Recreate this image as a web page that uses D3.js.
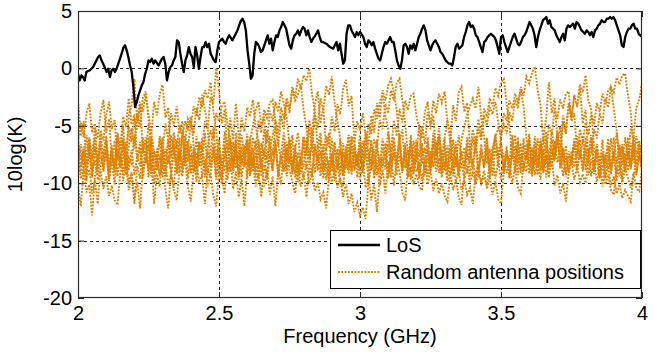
<!DOCTYPE html>
<html>
<head>
<meta charset="utf-8">
<script src="https://cdn.jsdelivr.net/npm/d3@7"></script>
<style>
  body { margin: 0; background: #fff; }
  text { font-family: Arial, "Liberation Sans", sans-serif; fill: #000; }
</style>
</head>
<body>
<div id="chart"></div>
<script>
// Grilles de fréquence (GHz)
const freqStart = 2;
const losStep = 0.5 / 84;     // LoS : 84 pas par demi-GHz
const randomStep = 0.01;      // réalisations aléatoires

// Courbe LoS (dB)
const losValues = [
  -0.47, -1.05, -0.61, -0.76, -1.05, -0.32, -0.23, -0.17, -0.03, 0.12,
  0.41, 0.70, 0.99, 1.13, 0.70, 0.41, 0.06, -0.32, -0.03, -0.76,
  -0.17, -0.03, -0.32, -0.03, 0.41, 0.84, 1.28, 1.80, 2.01, 1.57,
  0.99, 0.26, -0.32, -1.63, -3.37, -2.94, -2.35, -1.92, -1.48, -1.19,
  -0.47, -0.03, 0.70, 0.55, 0.84, 0.41, 0.70, 0.47, 0.26, 0.55,
  0.84, 0.99, 0.41, -1.05, -0.32, 0.12, 0.26, 0.70, 0.99, 2.44,
  2.30, 1.28, 0.41, -0.32, 0.70, 1.13, 1.86, 1.28, 0.99, 0.12,
  1.86, 1.13, -0.03, 0.99, 1.86, 1.86, 2.30, 1.86, 2.15, 1.28,
  0.99, 0.70, 0.55, 1.57,
  2.30, 2.44, 2.59, 2.30, 2.15, 2.59, 2.88, 2.67, 2.44, 2.73,
  3.02, 3.31, 3.75, 4.13, 4.33, 4.04, 3.31, 1.57, 0.41, -0.90,
  -0.61, 1.28, 2.30, 2.15, 1.86, 1.42, 1.57, 2.01, 2.44, 2.88,
  2.15, 2.59, 1.57, 2.30, 2.88, 2.73, 3.31, 3.60, 4.04, 3.75,
  3.46, 2.73, 2.01, 1.72, 2.44, 2.88, 3.02, 3.31, 2.88, 3.31,
  3.60, 3.46, 2.88, 3.31, 2.73, 2.30, 2.59, 2.79, 3.02, 3.31,
  2.73, 2.30, 2.30, 2.21, 2.15, 2.01, 1.86, 1.80, 1.72, 2.01,
  2.30, 1.57, 2.15, 1.28, 0.41, 0.70, 3.02, 3.75, 3.75, 3.31,
  3.02, 2.73, 3.17, 2.88,
  3.17, 2.97, 2.73, 2.15, 1.86, 2.44, 2.30, 2.01, 2.30, 1.72,
  1.28, 0.84, 0.70, 1.28, 1.86, 2.30, 2.15, 2.44, 2.73, 2.30,
  2.30, 1.57, 0.70, 0.26, -0.03, 0.70, 2.01, 2.15, 1.86, 1.28,
  2.01, 1.72, 2.15, 1.57, 2.15, 2.73, 3.02, 3.46, 3.75, 3.31,
  2.44, 2.01, 1.57, 2.01, 2.30, 2.44, 2.15, 1.86, 1.42, 1.28,
  0.99, 0.70, 0.55, 0.41, 0.41, 0.26, 0.99, 1.86, 2.15, 1.72,
  1.86, 2.01, 2.73, 3.17, 3.75, 4.04, 3.60, 3.75, 3.46, 2.88,
  2.73, 2.30, 1.86, 1.42, 2.30, 2.44, 2.73, 2.88, 3.02, 2.88,
  2.73, 2.44, 1.86, 1.28,
  2.73, 2.88, 2.30, 1.86, 1.42, 1.86, 2.30, 2.73, 3.02, 2.59,
  2.15, 2.01, 2.30, 2.73, 2.88, 3.17, 3.60, 4.04, 3.75, 3.46,
  2.88, 1.86, 2.73, 3.31, 3.75, 4.19, 4.33, 4.48, 3.90, 4.19,
  3.60, 3.46, 3.31, 2.88, 2.59, 2.30, 2.73, 3.02, 2.44, 3.46,
  3.75, 3.60, 3.75, 3.90, 3.46, 4.04, 3.90, 3.60, 3.31, 3.17,
  3.02, 3.31, 3.17, 2.88, 3.17, 2.73, 3.31, 3.46, 3.75, 3.90,
  4.19, 4.04, 4.04, 4.33, 4.33, 4.48, 4.33, 4.48, 4.19, 3.75,
  3.31, 2.88, 2.01, 1.86, 2.73, 3.17, 3.46, 3.46, 3.75, 3.90,
  3.46, 3.46, 3.02, 2.88,
  2.73
];

// Positions d'antenne aléatoires (dB), huit réalisations
const random1 = [
  -2.8, -5.9, -4.6, -8.3, -6.1, -9.4, -6.9, -8.8, -5.7, -7.9,
  -6.2, -9.6, -7.4, -8.9, -5.8, -7.1, -5.0, -8.3, -4.1, -3.2,
  -0.9, -4.6, -2.9, -7.3, -6.0, -9.5, -7.2, -10.1, -8.0, -9.3,
  -7.1, -10.6, -12.2, -9.0, -10.4, -6.8, -8.9, -5.9, -8.1, -6.3,
  -9.2, -7.0, -9.9, -6.5, -8.4, -5.6, -9.1, -7.3, -5.1, -8.0,
  -6.2, -8.7, -5.5, -7.0, -4.3, -6.2, -3.05, -5.9, -8.4, -6.7,
  -9.6, -7.1, -8.5, -6.3, -9.8, -7.9, -10.3, -8.8, -11.0, -9.4,
  -12.0, -8.9, -10.1, -6.6, -8.8, -6.1, -9.2, -7.0, -5.6, -8.3,
  -5.9, -7.2, -4.5, -5.7, -3.2, -2.0, -4.8, -3.4, -7.1, -5.6,
  -9.0, -6.9, -8.6, -6.2, -9.4, -7.5, -5.8, -8.7, -6.6, -9.5,
  -7.2, -8.8, -5.9, -8.1, -6.4, -9.3, -7.0, -8.5, -6.1, -7.7,
  -9.6, -7.4, -10.2, -8.1, -9.0, -10.8, -11.5, -8.6, -9.7, -6.3,
  -7.6, -4.9, -6.1, -3.8, -2.9, -5.3, -4.1, -7.4, -6.0, -8.9,
  -6.7, -9.3, -7.9, -6.2, -8.6, -5.8, -8.0, -6.9, -9.1, -7.3,
  -8.4, -5.9, -9.2, -7.0, -8.7, -6.1, -9.5, -7.6, -5.7, -8.2,
  -6.4, -8.9, -6.8, -9.4, -7.1, -5.8, -8.3, -6.5, -9.0, -7.2,
  -8.5, -6.9, -9.3, -8.1, -9.7, -6.0, -4.3, -1.2, -3.9, -2.6,
  -6.4, -5.1, -8.3, -6.7, -9.1, -7.2, -8.6, -5.9, -7.8, -6.2,
  -8.9, -7.0, -9.4, -8.0, -9.9, -8.3, -10.3, -7.5, -8.8, -6.1,
  -7.9, -5.6, -8.3, -6.9, -9.0, -6.4, -8.7, -5.8, -7.5, -6.3,
  -8.1
];
const random2 = [
  -6.4, -4.7, -6.0, -3.9, -3.05, -5.6, -4.8, -8.1, -6.6, -9.0,
  -7.2, -9.8, -8.0, -10.1, -7.3, -8.6, -6.1, -8.9, -6.7, -5.2,
  -7.0, -3.9, -5.1, -2.6, -2.0, -4.4, -7.9, -11.8, -9.2, -10.3,
  -7.0, -8.8, -6.2, -9.4, -7.3, -8.5, -6.0, -9.1, -8.0, -10.4,
  -11.6, -8.7, -9.3, -6.4, -7.1, -4.6, -5.3, -2.5, -3.1, 0.0,
  -1.9, -4.8, -3.6, -7.4, -5.9, -8.8, -6.6, -9.3, -7.5, -8.6,
  -6.3, -9.4, -7.9, -10.3, -9.1, -11.2, -8.4, -9.6, -6.8, -8.9,
  -6.5, -9.0, -7.4, -5.6, -8.1, -6.2, -9.2, -7.1, -9.9, -7.8,
  -8.6, -6.1, -8.4, -5.5, -7.6, -6.8, -9.4, -7.2, -5.9, -6.8,
  -4.2, -5.5, -3.1, -4.0, -1.8, -1.0, -3.3, -2.4, -6.3, -8.5,
  -6.9, -9.1, -7.4, -8.9, -6.2, -9.6, -8.0, -10.2, -8.8, -10.9,
  -8.1, -9.5, -6.4, -8.2, -5.8, -9.0, -7.1, -8.8, -6.3, -9.2,
  -7.5, -9.6, -6.9, -8.3, -6.0, -8.7, -5.6, -7.4, -5.2, -7.9,
  -6.1, -4.5, -6.4, -3.2, -4.6, -2.1, -1.6, -3.8, -3.0, -6.9,
  -8.8, -6.6, -9.3, -7.2, -8.5, -6.0, -9.0, -7.3, -9.6, -8.1,
  -9.7, -7.4, -9.1, -8.3, -10.0, -8.6, -10.4, -10.9, -8.2, -9.0,
  -6.3, -8.4, -5.9, -8.0, -6.7, -9.1, -7.5, -8.6, -6.2, -7.9,
  -5.4, -6.9, -4.1, -5.6, -3.0, -4.2, -2.4, -3.3, -1.7, -4.8,
  -3.6, -7.9, -6.1, -9.2, -7.3, -8.4, -6.2, -9.5, -7.7, -8.8,
  -6.0, -8.3, -6.8, -9.7, -7.4, -8.9, -6.5, -8.2, -5.9, -7.3,
  -6.6
];
const random3 = [
  -7.6, -9.1, -6.8, -8.4, -6.0, -7.9, -5.2, -6.1, -3.9, -2.75,
  -5.6, -4.4, -7.8, -6.3, -9.4, -7.5, -9.8, -8.2, -10.6, -9.1,
  -11.4, -9.9, -12.2, -8.6, -7.3, -4.9, -5.8, -2.9, -4.1, -2.2,
  -1.45, -4.3, -3.4, -7.8, -6.1, -9.2, -7.0, -8.8, -6.4, -9.6,
  -7.5, -8.9, -5.9, -8.3, -6.8, -9.5, -7.2, -8.6, -6.5, -9.3,
  -7.8, -10.1, -8.4, -9.7, -7.9, -10.5, -9.0, -11.2, -9.6, -12.0,
  -8.9, -6.3, -5.1, -3.6, -2.9, -5.0, -4.2, -7.9, -6.5, -8.7,
  -6.2, -9.5, -7.7, -8.9, -6.4, -8.2, -5.8, -9.1, -7.3, -8.5,
  -6.0, -7.6, -5.1, -6.9, -4.0, -5.2, -2.6, -3.7, -1.5, -2.3,
  -0.7, -3.0, -4.6, -6.1, -8.7, -7.3, -9.2, -6.8, -8.9, -7.5,
  -9.7, -8.1, -10.4, -9.2, -11.5, -10.1, -12.5, -9.4, -7.7, -8.8,
  -6.6, -9.0, -7.4, -8.3, -5.9, -8.7, -6.8, -9.5, -7.1, -8.4,
  -6.2, -7.7, -5.0, -6.6, -3.8, -4.9, -2.8, -3.9, -2.2, -3.0,
  -2.0, -4.7, -5.4, -8.1, -6.8, -9.0, -7.2, -8.7, -6.5, -9.4,
  -7.8, -9.9, -8.3, -10.2, -8.9, -10.5, -9.4, -11.0, -9.8, -11.4,
  -11.8, -9.0, -7.2, -8.6, -6.4, -9.1, -7.0, -8.5, -6.1, -7.9,
  -5.7, -8.2, -6.6, -9.0, -7.3, -6.1, -7.4, -4.9, -5.8, -3.6,
  -4.4, -2.7, -3.5, -2.2, -2.0, -4.6, -3.9, -7.5, -6.2, -8.8,
  -7.1, -9.3, -7.9, -8.8, -6.6, -9.4, -7.8, -8.5, -6.9, -9.2,
  -7.5, -9.8, -8.2, -10.1, -8.7, -9.5, -10.4, -9.1, -10.5, -10.7,
  -8.8
];
const random4 = [
  -8.4, -6.6, -8.9, -5.8, -7.6, -9.5, -7.0, -8.2, -5.4, -6.3,
  -4.1, -2.9, -5.3, -4.5, -8.0, -6.4, -9.1, -7.7, -10.0, -9.0,
  -11.8, -8.5, -9.6, -6.9, -8.3, -6.0, -9.0, -7.2, -8.6, -5.9,
  -7.1, -4.8, -6.2, -3.9, -5.0, -3.3, -5.7, -4.6, -8.3, -6.9,
  -9.1, -7.4, -8.8, -6.3, -9.5, -8.0, -10.3, -9.2, -11.1, -12.0,
  -8.9, -9.7, -6.8, -8.5, -6.2, -8.9, -5.6, -7.0, -4.3, -5.5,
  -3.4, -4.2, -2.75, -5.1, -6.4, -8.6, -7.3, -9.7, -7.6, -8.9,
  -6.5, -9.3, -7.8, -9.0, -6.9, -8.8, -9.9, -10.9, -8.1, -9.2,
  -6.4, -8.7, -7.0, -9.5, -6.8, -8.1, -6.2, -9.0, -8.3, -9.8,
  -7.4, -9.4, -8.6, -9.9, -10.3, -8.0, -8.9, -5.9, -6.5, -4.6,
  -5.3, -3.9, -5.8, -7.2, -8.9, -7.0, -9.3, -7.6, -8.7, -6.5,
  -9.2, -7.5, -6.0, -8.4, -6.7, -9.1, -7.3, -8.6, -5.8, -8.0,
  -6.6, -9.3, -7.9, -8.8, -6.4, -9.0, -7.4, -8.3, -5.9, -7.7,
  -6.1, -8.8, -7.0, -9.4, -7.6, -8.6, -6.2, -5.1, -4.0, -3.3,
  -2.6, -3.5, -1.6, -4.4, -5.9, -8.3, -7.0, -9.4, -6.7, -8.5,
  -6.9, -9.2, -7.5, -8.1, -5.8, -8.6, -6.4, -9.1, -7.3, -8.0,
  -6.2, -8.9, -7.6, -9.3, -6.8, -8.5, -6.0, -7.8, -5.5, -7.2,
  -5.9, -8.4, -4.6, -5.7, -3.2, -4.5, -2.3, -3.4, -1.4, -2.1,
  -0.6, -2.8, -3.6, -6.9, -8.1, -9.6, -8.4, -10.1, -9.3, -10.6,
  -11.0, -8.6, -9.4, -6.7, -8.2, -6.0, -8.8, -7.1, -9.3, -7.6,
  -8.9
];
const random5 = [
  -10.3, -12.0, -8.9, -9.8, -6.7, -8.4, -6.0, -9.2, -7.5, -8.6,
  -6.3, -9.0, -7.1, -8.5, -5.6, -6.8, -4.2, -5.1, -2.6, -4.9,
  -4.0, -8.1, -6.9, -9.6, -7.4, -8.8, -6.3, -9.2, -7.0, -8.1,
  -6.0, -9.4, -7.6, -8.9, -6.5, -9.1, -7.8, -8.4, -5.9, -6.9,
  -4.8, -5.7, -3.4, -4.5, -2.3, -3.6, -5.2, -8.6, -7.3, -9.7,
  -7.1, -8.3, -6.0, -9.0, -7.6, -8.5, -6.2, -9.3, -6.8, -8.0,
  -5.7, -8.4, -6.9, -9.5, -7.2, -8.1, -5.3, -6.5, -3.7, -4.6,
  -2.9, -3.8, -2.0, -3.1, -4.3, -6.6, -7.9, -9.5, -8.4, -10.3,
  -9.1, -11.2, -8.6, -9.4, -6.6, -8.9, -7.2, -9.6, -7.7, -8.4,
  -6.1, -8.9, -7.0, -9.3, -7.5, -8.1, -5.8, -9.0, -6.9, -8.6,
  -6.4, -7.8, -5.5, -6.7, -4.1, -5.6, -3.0, -4.3, -1.9, -2.8,
  -1.5, -0.9, -2.2, -3.6, -6.2, -5.3, -8.7, -7.1, -9.4, -7.8,
  -9.0, -8.2, -9.8, -8.0, -10.1, -8.9, -10.7, -9.6, -10.9, -10.0,
  -11.1, -11.6, -9.3, -8.2, -6.4, -9.0, -7.3, -8.8, -6.0, -7.4,
  -5.3, -6.7, -4.4, -5.9, -3.5, -4.2, -2.6, -3.3, -1.7, -2.4,
  -1.2, -0.9, -3.1, -5.0, -7.9, -6.8, -9.3, -7.4, -8.7, -6.6,
  -9.2, -7.8, -8.4, -6.1, -8.9, -7.0, -9.5, -7.7, -8.6, -6.3,
  -8.2, -6.9, -9.4, -7.6, -9.0, -8.1, -9.7, -8.5, -9.9, -9.2,
  -10.0, -8.0, -7.4, -5.3, -6.1, -3.9, -4.8, -2.6, -3.4, -1.6,
  -2.1, -0.8, -1.4, -0.6, -0.45, -2.3, -3.8, -6.9, -8.4, -7.2,
  -8.8
];
const random6 = [
  -8.0, -9.6, -8.7, -10.8, -10.1, -12.8, -9.4, -8.2, -6.5, -8.8,
  -7.1, -9.5, -7.8, -8.6, -5.9, -8.0, -6.6, -7.5, -5.1, -6.4,
  -4.2, -5.3, -3.1, -3.8, -2.2, -4.0, -5.6, -7.4, -8.9, -7.6,
  -9.5, -8.4, -10.1, -9.3, -10.6, -11.5, -8.7, -9.4, -6.3, -8.1,
  -6.6, -9.0, -7.3, -8.5, -6.1, -8.7, -6.8, -5.4, -6.2, -3.9,
  -4.6, -3.3, -2.9, -4.8, -6.5, -8.3, -7.1, -9.7, -7.9, -8.6,
  -6.4, -9.2, -7.7, -8.9, -6.2, -9.4, -7.0, -8.3, -5.9, -7.6,
  -5.0, -6.8, -4.1, -5.3, -2.7, -3.9, -1.6, -2.5, -0.9, -1.8,
  -0.6, -1.1, 0.0, -2.3, -3.7, -6.9, -5.6, -8.6, -7.0, -9.2,
  -7.5, -9.8, -8.1, -9.0, -6.5, -8.7, -6.9, -9.3, -7.4, -8.2,
  -5.8, -8.9, -7.1, -9.6, -7.7, -8.4, -6.2, -9.0, -6.9, -8.0,
  -5.6, -7.3, -4.5, -5.9, -3.5, -4.7, -2.8, -3.6, -2.4, -2.2,
  -4.1, -5.3, -8.0, -6.9, -9.4, -7.2, -8.6, -6.4, -9.1, -7.8,
  -8.9, -6.7, -9.3, -8.1, -9.9, -8.8, -10.6, -9.7, -11.0, -10.4,
  -11.8, -9.1, -8.3, -6.6, -8.7, -6.9, -9.2, -7.4, -5.9, -7.6,
  -6.0, -4.9, -5.7, -3.8, -4.6, -2.7, -3.5, -1.6, -2.4, -0.7,
  -1.3, -0.4, 0.15, -1.9, -3.2, -6.4, -5.5, -8.9, -7.6, -10.2,
  -9.3, -10.9, -10.0, -11.6, -9.1, -8.0, -6.3, -8.7, -7.1, -9.0,
  -6.5, -8.3, -5.8, -8.6, -7.0, -9.4, -7.5, -8.2, -6.1, -8.9,
  -7.2, -9.1, -6.6, -8.4, -6.0, -7.9, -5.2, -5.9, -3.4, -2.7,
  -1.3
];
const random7 = [
  -6.1, -8.0, -7.2, -9.6, -8.8, -10.9, -9.7, -11.8, -8.5, -7.3,
  -5.9, -8.4, -6.7, -9.1, -7.0, -8.6, -6.2, -9.3, -7.8, -8.3,
  -5.7, -7.9, -6.4, -9.0, -7.3, -8.7, -6.0, -8.9, -7.5, -9.4,
  -7.1, -8.5, -6.2, -7.7, -5.6, -6.9, -4.9, -6.0, -4.6, -5.4,
  -4.2, -6.7, -8.3, -9.8, -9.4, -11.8, -8.7, -9.5, -6.8, -8.4,
  -6.5, -9.2, -7.6, -8.9, -6.3, -9.1, -7.4, -8.0, -5.8, -7.6,
  -6.2, -8.7, -6.0, -7.1, -4.5, -5.6, -3.6, -4.3, -3.0, -2.75,
  -4.6, -6.5, -8.1, -7.0, -9.4, -7.7, -8.8, -6.6, -9.2, -7.9,
  -9.6, -8.3, -10.0, -9.1, -10.7, -9.9, -11.4, -10.8, -12.2, -9.5,
  -8.0, -6.4, -8.8, -7.1, -9.3, -6.8, -8.4, -6.0, -8.7, -7.5,
  -8.9, -6.3, -7.2, -4.8, -5.7, -3.6, -4.4, -2.9, -2.3, -4.1,
  -5.3, -8.2, -7.0, -9.3, -7.6, -8.8, -6.5, -9.4, -8.6, -10.1,
  -9.2, -10.3, -10.6, -8.4, -7.2, -8.9, -6.6, -9.0, -7.8, -9.5,
  -8.1, -9.8, -9.0, -10.6, -9.7, -11.2, -11.9, -9.0, -7.6, -8.3,
  -6.1, -7.4, -5.2, -6.3, -4.1, -5.0, -3.4, -4.0, -2.9, -4.7,
  -6.3, -8.9, -7.2, -9.6, -7.5, -8.4, -6.0, -8.8, -6.7, -7.9,
  -6.3, -9.2, -7.4, -8.6, -6.1, -8.9, -7.7, -9.5, -7.0, -8.1,
  -5.8, -8.7, -6.9, -9.1, -7.2, -8.2, -6.4, -7.8, -5.3, -6.4,
  -4.7, -5.8, -3.9, -4.9, -3.0, -3.8, -2.2, -3.1, -1.9, -1.6,
  -3.5, -5.4, -7.7, -6.6, -9.0, -7.3, -8.6, -6.5, -9.2, -7.6,
  -8.2
];
const random8 = [
  -6.7, -8.6, -7.3, -9.2, -6.8, -8.9, -8.0, -9.7, -8.9, -10.5,
  -9.4, -11.1, -10.2, -11.5, -11.9, -9.0, -7.8, -6.4, -8.9, -7.1,
  -9.3, -7.6, -8.5, -6.0, -8.2, -6.7, -9.4, -7.2, -8.0, -6.1,
  -8.8, -7.0, -8.3, -5.8, -7.4, -6.2, -8.0, -5.5, -6.3, -4.4,
  -5.0, -3.3, -4.2, -2.5, -3.4, -1.9, -2.6, -1.2, -3.7, -5.4,
  -8.9, -9.6, -10.9, -8.3, -9.0, -6.4, -8.7, -7.1, -9.5, -7.8,
  -8.4, -6.0, -9.0, -7.3, -8.8, -6.5, -7.6, -5.4, -6.9, -5.9,
  -4.5, -5.6, -3.4, -4.4, -2.6, -3.5, -1.9, -2.8, -2.2, -1.45,
  -3.6, -5.1, -7.9, -6.8, -9.1, -7.4, -8.8, -6.6, -9.7, -8.3,
  -9.9, -8.8, -10.4, -9.5, -11.2, -10.1, -11.8, -10.9, -12.5, -11.7,
  -12.8, -12.1, -13.1, -9.9, -8.6, -6.2, -6.9, -4.5, -5.3, -3.1,
  -3.9, -1.9, -2.8, -1.3, -0.9, -2.7, -4.8, -7.5, -6.6, -9.1,
  -7.3, -8.9, -6.5, -9.3, -7.8, -8.6, -6.1, -8.0, -6.9, -9.2,
  -7.4, -8.5, -6.2, -9.0, -7.7, -9.4, -8.2, -9.6, -8.7, -9.9,
  -9.1, -10.1, -9.3, -9.8, -9.5, -10.2, -8.1, -6.9, -6.0, -5.2,
  -5.7, -3.9, -4.6, -2.8, -3.5, -2.2, -2.9, -1.9, -3.3, -6.0,
  -8.1, -9.4, -7.2, -8.6, -6.3, -8.9, -7.5, -9.2, -6.8, -8.0,
  -5.9, -8.7, -7.0, -9.5, -7.6, -8.3, -6.1, -9.0, -7.3, -8.4,
  -6.0, -7.7, -5.8, -8.9, -6.7, -8.1, -7.3, -9.6, -8.5, -10.2,
  -9.4, -10.9, -10.1, -11.3, -10.6, -11.1, -11.6, -9.3, -8.1, -6.6,
  -7.8
];
const randomSeries = [random1, random2, random3, random4, random5, random6, random7, random8];

// Axes et légende
const xTicks = [2, 2.5, 3, 3.5, 4];
const yTicks = [-20, -15, -10, -5, 0, 5];
const legendLabels = ["LoS", "Random antenna positions"];
const xLabel = "Frequency (GHz)";
const yLabel = "10log(K)";

const width = 670;
const height = 352;
const plot = { left: 78, right: 642, top: 11, bottom: 298 };
const orange = "#e08000";

const svg = d3.select("#chart")
  .append("svg")
  .attr("width", width)
  .attr("height", height);

svg.append("rect").attr("width", width).attr("height", height).attr("fill", "#fff");

// Échelles
const x = d3.scaleLinear().domain([2, 4]).range([plot.left, plot.right]);
const y = d3.scaleLinear().domain([-20, 5]).range([plot.bottom, plot.top]);

svg.append("clipPath").attr("id", "clip")
  .append("rect")
  .attr("x", plot.left).attr("y", plot.top)
  .attr("width", plot.right - plot.left).attr("height", plot.bottom - plot.top);

// Grille pointillée
const grid = svg.append("g")
  .attr("stroke", "#222")
  .attr("stroke-width", 1)
  .attr("stroke-dasharray", "3,3");

grid.selectAll("line.vx")
  .data(xTicks.slice(1, -1))
  .enter()
  .append("line")
  .attr("x1", d => Math.round(x(d)) + 0.5).attr("x2", d => Math.round(x(d)) + 0.5)
  .attr("y1", plot.top).attr("y2", plot.bottom);

grid.selectAll("line.hy")
  .data(yTicks.slice(1, -1))
  .enter()
  .append("line")
  .attr("y1", d => Math.round(y(d)) + 0.5).attr("y2", d => Math.round(y(d)) + 0.5)
  .attr("x1", plot.left).attr("x2", plot.right);

// Générateurs de ligne
const lineFor = step => d3.line()
  .x((d, i) => x(freqStart + i * step))
  .y(d => y(d));

const marks = svg.append("g").attr("clip-path", "url(#clip)");

marks.selectAll("path.random")
  .data(randomSeries)
  .enter()
  .append("path")
  .attr("class", "random")
  .attr("d", lineFor(randomStep))
  .attr("fill", "none")
  .attr("stroke", orange)
  .attr("stroke-width", 1.9)
  .attr("stroke-dasharray", "1.9,1.4");

marks.append("path")
  .datum(losValues)
  .attr("d", lineFor(losStep))
  .attr("fill", "none")
  .attr("stroke", "#000")
  .attr("stroke-width", 2.3)
  .attr("stroke-linejoin", "round");

// Axes (boîte style MATLAB, graduations vers l'intérieur)
const fmt = d => String(d);
const axisColor = "#2a2a2a";

function styleAxis(g) {
  g.select(".domain").remove();
  g.selectAll(".tick line").attr("stroke", axisColor);
  g.selectAll(".tick text").attr("fill", "#000").style("font-size", "20px");
}

svg.append("g")
  .attr("transform", `translate(0,${plot.bottom})`)
  .call(d3.axisBottom(x).tickValues(xTicks).tickFormat(fmt).tickSizeInner(-6).tickSizeOuter(0).tickPadding(7.5))
  .call(styleAxis);

svg.append("g")
  .attr("transform", `translate(0,${plot.top})`)
  .call(d3.axisTop(x).tickValues(xTicks).tickFormat("").tickSizeInner(-6).tickSizeOuter(0))
  .call(styleAxis);

svg.append("g")
  .attr("transform", `translate(${plot.left},0)`)
  .call(d3.axisLeft(y).tickValues(yTicks).tickFormat(fmt).tickSizeInner(-6).tickSizeOuter(0).tickPadding(6))
  .call(styleAxis);

svg.append("g")
  .attr("transform", `translate(${plot.right},0)`)
  .call(d3.axisRight(y).tickValues(yTicks).tickFormat("").tickSizeInner(-6).tickSizeOuter(0))
  .call(styleAxis);

svg.append("rect")
  .attr("x", plot.left + 0.5).attr("y", plot.top + 0.5)
  .attr("width", plot.right - plot.left - 1).attr("height", plot.bottom - plot.top - 1)
  .attr("fill", "none")
  .attr("stroke", axisColor)
  .attr("stroke-width", 1.2);

// Titres des axes
svg.append("text")
  .attr("x", (plot.left + plot.right) / 2)
  .attr("y", 342.5)
  .attr("text-anchor", "middle")
  .style("font-size", "20px")
  .text(xLabel);

svg.append("text")
  .attr("transform", `translate(22,${(plot.top + plot.bottom) / 2}) rotate(-90)`)
  .attr("text-anchor", "middle")
  .style("font-size", "20px")
  .text(yLabel);

// Légende
const legend = svg.append("g").attr("transform", "translate(330,230)");

legend.append("rect")
  .attr("x", 0.5).attr("y", 0.5)
  .attr("width", 310).attr("height", 58)
  .attr("fill", "#fff")
  .attr("stroke", "#000")
  .attr("stroke-width", 1);

const legendStyles = [
  { stroke: "#000", width: 2.3, dash: null },
  { stroke: orange, width: 1.9, dash: "1.9,1.4" }
];

legend.selectAll("line")
  .data(legendLabels)
  .enter()
  .append("line")
  .attr("x1", 8).attr("x2", 50)
  .attr("y1", (d, i) => 15 + i * 27).attr("y2", (d, i) => 15 + i * 27)
  .attr("stroke", (d, i) => legendStyles[i].stroke)
  .attr("stroke-width", (d, i) => legendStyles[i].width)
  .attr("stroke-dasharray", (d, i) => legendStyles[i].dash);

legend.selectAll("text")
  .data(legendLabels)
  .enter()
  .append("text")
  .attr("x", 56)
  .attr("y", (d, i) => 15 + i * 27)
  .attr("dy", "0.35em")
  .style("font-size", "20px")
  .text(d => d);
</script>
</body>
</html>
